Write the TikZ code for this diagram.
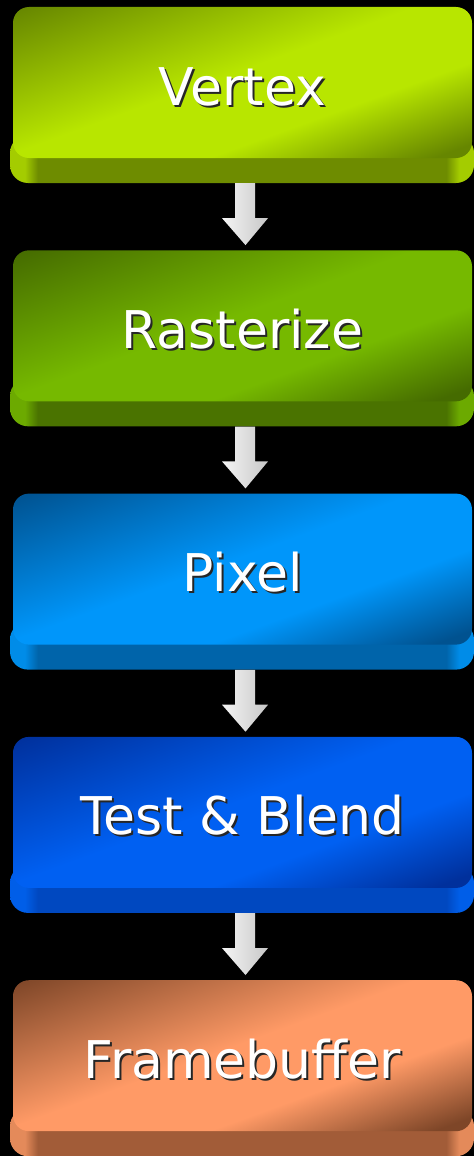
\documentclass[tikz,border=0pt]{standalone}
\usepackage{fontspec}
\newfontfamily\boxfont{DejaVu Sans}
\usetikzlibrary{calc}

% stage colours: face dark / face bright / slab side / slab front
\definecolor{c1dark}{HTML}{668600}
\definecolor{c1bright}{HTML}{B8E600}
\definecolor{c1side}{HTML}{A4CC00}
\definecolor{c1front}{HTML}{6E8C00}
\definecolor{c2dark}{HTML}{456B00}
\definecolor{c2bright}{HTML}{76B900}
\definecolor{c2side}{HTML}{6CAA00}
\definecolor{c2front}{HTML}{4A7300}
\definecolor{c3dark}{HTML}{005290}
\definecolor{c3bright}{HTML}{0096FA}
\definecolor{c3side}{HTML}{008CE8}
\definecolor{c3front}{HTML}{0064AA}
\definecolor{c4dark}{HTML}{00309C}
\definecolor{c4bright}{HTML}{0060F2}
\definecolor{c4side}{HTML}{005EE8}
\definecolor{c4front}{HTML}{0048C0}
\definecolor{c5dark}{HTML}{7E4628}
\definecolor{c5bright}{HTML}{FF9A66}
\definecolor{c5side}{HTML}{E48A5A}
\definecolor{c5front}{HTML}{A25C38}

% colours that the two shadings below depend on
\colorlet{fdark}{black}
\colorlet{fbright}{white}
\colorlet{sside}{white}
\colorlet{sfront}{black}

% top face: dark lower-right corner, bright band, long fade to a dark upper-left corner
\pgfdeclareverticalshading[fdark,fbright]{faceshade}{100bp}{%
  color(0bp)=(fdark); color(25bp)=(fdark); color(27bp)=(fdark); color(40bp)=(fbright);
  color(52bp)=(fbright); color(75bp)=(fdark); color(100bp)=(fdark)}
% slab: lit rounded ends, darker front
\pgfdeclarehorizontalshading[sside,sfront]{slabshade}{100bp}{%
  color(0bp)=(sside); color(25bp)=(sside); color(26.6bp)=(sside);
  color(28bp)=(sfront); color(72bp)=(sfront); color(73.4bp)=(sside);
  color(75bp)=(sside); color(100bp)=(sside)}

\newcommand\shtext[1]{\rlap{\kern2pt\raisebox{-2pt}{\textcolor{black!85}{#1}}}#1}

\tikzset{
  face/.style={rectangle, rounded corners=16pt, minimum width=459pt,
    minimum height=151pt, inner sep=0pt, text=white,
    font=\boxfont\fontsize{52pt}{60pt}\selectfont,
    text height=45pt, text depth=0pt},
  facecol/.style 2 args={path picture={%
    \colorlet{fdark}{#1}\colorlet{fbright}{#2}%
    \begin{scope}[transform canvas={rotate around={20:(path picture bounding box.center)}}]
      \shade[shading=faceshade]
        ($(path picture bounding box.center)+(-420pt,-148pt)$) rectangle
        ($(path picture bounding box.center)+(420pt,148pt)$);
    \end{scope}}},
  slab/.style={rectangle, rounded corners=18pt, minimum width=464pt,
    minimum height=48pt, inner sep=0pt},
  slabcol/.style 2 args={/utils/exec={\colorlet{sside}{#1}\colorlet{sfront}{#2}},
    shade, shading=slabshade},
  flowarrow/.style={left color=white!96!black, right color=black!22, draw=none},
}

\begin{document}
\begin{tikzpicture}[x=1pt,y=1pt]
  \fill[black] (0,0) rectangle (474,-1156);
  \useasboundingbox (0,0) rectangle (474,-1156);

  % slabs under the faces
  \node[slab, slabcol={c1side}{c1front}] (s1) at (242,-159) {};
  \node[slab, slabcol={c2side}{c2front}] (s2) at (242,-402.3) {};
  \node[slab, slabcol={c3side}{c3front}] (s3) at (242,-645.6) {};
  \node[slab, slabcol={c4side}{c4front}] (s4) at (242,-888.9) {};
  \node[slab, slabcol={c5side}{c5front}] (s5) at (242,-1132.2) {};

  % top faces with labels
  \node[face, facecol={c1dark}{c1bright}] (f1) at (242.5,-82.5) {\shtext{Vertex}};
  \node[face, facecol={c2dark}{c2bright}] (f2) at (242.5,-325.8) {\shtext{Rasterize}};
  \node[face, facecol={c3dark}{c3bright}] (f3) at (242.5,-569.1) {\shtext{Pixel}};
  \node[face, facecol={c4dark}{c4bright}] (f4) at (242.5,-812.4) {\shtext{Test \& Blend}};
  \node[face, facecol={c5dark}{c5bright}] (f5) at (242.5,-1055.7) {\shtext{Framebuffer}};

  % block arrows from each slab down to the next face
  \foreach \a/\b in {s1/f2, s2/f3, s3/f4, s4/f5}{
    \shade[flowarrow] let \p1=($(\a.south)+(3pt,0pt)$), \p2=($(\b.north)+(3pt,5pt)$) in
      (\x1-10pt,\y1) -- (\x1+10pt,\y1) -- (\x1+10pt,\y2+27pt) -- (\x1+23pt,\y2+27pt)
      -- (\x2,\y2) -- (\x1-23pt,\y2+27pt) -- (\x1-10pt,\y2+27pt) -- cycle;
  }
\end{tikzpicture}
\end{document}
